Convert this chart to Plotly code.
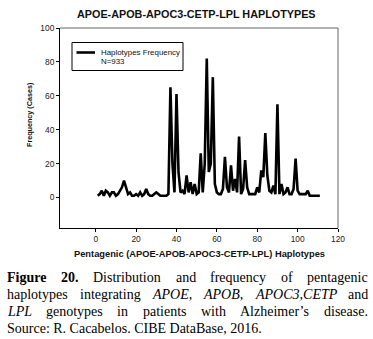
import plotly.graph_objects as go

# ---------------- data ----------------
haplotype_ids = list(range(1, 112))
frequency = [
    1, 2, 4, 1, 4, 3, 1, 3, 3, 1,
    2, 4, 6, 10, 6, 2, 3, 1, 1, 2,
    1, 3, 1, 2, 5, 2, 1, 1, 2, 3,
    2, 1, 1, 1, 1, 2, 65, 20, 3, 61,
    15, 3, 4, 2, 13, 3, 9, 2, 8, 2,
    3, 26, 3, 20, 82, 15, 20, 71, 8, 3,
    2, 2, 5, 24, 6, 3, 19, 4, 11, 3,
    36, 2, 5, 22, 6, 2, 2, 2, 2, 6,
    3, 16, 12, 38, 13, 4, 3, 7, 2, 55,
    2, 8, 2, 3, 6, 2, 2, 5, 23, 4,
    2, 2, 2, 2, 4, 1, 1, 1, 1, 1, 1,
]
x_ticks = [0, 20, 40, 60, 80, 100, 120]
y_ticks = [0, 20, 40, 60, 80, 100]

chart_title = "APOE-APOB-APOC3-CETP-LPL HAPLOTYPES"
x_title = "Pentagenic (APOE-APOB-APOC3-CETP-LPL) Haplotypes"
y_title = "Frequency (Cases)"
legend_lines = ["Haplotypes Frequency", "N=933"]

caption_lines = [
    [("Figure", "b"), ("20.", "b"), ("Distribution", "r"), ("and", "r"),
     ("frequency", "r"), ("of", "r"), ("pentagenic", "r")],
    [("haplotypes", "r"), ("integrating", "r"), ("APOE,", "i"), ("APOB,", "i"),
     ("APOC3,CETP", "i"), ("and", "r")],
    [("LPL", "i"), ("genotypes", "r"), ("in", "r"), ("patients", "r"),
     ("with", "r"), ("Alzheimer\u2019s", "r"), ("disease.", "r")],
]
caption_last = "Source: R. Cacabelos. CIBE DataBase, 2016."

# ---------------- layout geometry (pixels) ----------------
W, H = 373, 339
L, R, T, B = 60, 338, 28, 228


def px(x):
    return (x - L) / (R - L)


def py(y):
    return (B - y) / (B - T)


SANS = "Liberation Sans, Arial, sans-serif"
SERIF = "Liberation Serif, Times New Roman, serif"

fig = go.Figure()
fig.add_trace(go.Scatter(
    x=haplotype_ids, y=frequency, mode="lines",
    line=dict(color="black", width=2.6),
    name=" ".join(legend_lines), showlegend=False,
))

fig.update_layout(
    width=W, height=H,
    margin=dict(l=L, r=W - R, t=T, b=H - B),
    paper_bgcolor="white", plot_bgcolor="white",
    showlegend=False,
    font=dict(family=SANS, color="#222"),
)
fig.update_xaxes(
    range=[-17.7, 120], tickvals=x_ticks, ticks="outside", ticklen=3,
    tickcolor="black", showline=True, linecolor="black", linewidth=1,
    showgrid=False, zeroline=False, tickfont=dict(size=8.4, family=SANS, color="#222"),
)
fig.update_yaxes(
    range=[-18, 100], tickvals=y_ticks, ticks="outside", ticklen=3,
    tickcolor="black", showline=True, linecolor="black", linewidth=1,
    showgrid=False, zeroline=False, tickfont=dict(size=8.4, family=SANS, color="#222"),
)

shapes = []
# grey top/right frame
shapes.append(dict(type="line", xref="paper", yref="paper", x0=0, x1=1, y0=1, y1=1,
                   line=dict(color="#666", width=1)))
shapes.append(dict(type="line", xref="paper", yref="paper", x0=1, x1=1, y0=0, y1=1,
                   line=dict(color="#666", width=1)))
# legend box
shapes.append(dict(type="rect", xref="paper", yref="paper",
                   x0=px(72), x1=px(183), y0=py(42.5), y1=py(70.5),
                   line=dict(color="black", width=1), fillcolor="white"))
shapes.append(dict(type="line", xref="paper", yref="paper",
                   x0=px(76.5), x1=px(95), y0=py(52.5), y1=py(52.5),
                   line=dict(color="black", width=2.6)))

annotations = []
annotations.append(dict(xref="paper", yref="paper", x=px(99), y=py(52.5),
                        text=legend_lines[0], showarrow=False, xanchor="left",
                        yanchor="middle", font=dict(size=7.9, family=SANS, color="#111")))
annotations.append(dict(xref="paper", yref="paper", x=px(99), y=py(61.5),
                        text=legend_lines[1], showarrow=False, xanchor="left",
                        yanchor="middle", font=dict(size=7.9, family=SANS, color="#111")))
# chart title
annotations.append(dict(xref="paper", yref="paper", x=px(196), y=py(14),
                        text="<b>" + chart_title + "</b>", showarrow=False,
                        xanchor="center", yanchor="middle",
                        font=dict(size=10.8, family=SANS, color="#111")))
# axis titles
annotations.append(dict(xref="paper", yref="paper", x=px(199), y=py(254),
                        text="<b>" + x_title + "</b>", showarrow=False,
                        xanchor="center", yanchor="middle",
                        font=dict(size=9.3, family=SANS, color="#111")))
annotations.append(dict(xref="paper", yref="paper", x=px(29), y=py(115),
                        text="<b>" + y_title + "</b>", showarrow=False, textangle=-90,
                        xanchor="center", yanchor="middle",
                        font=dict(size=7.2, family=SANS, color="#111")))

# ---------------- caption (justified, Times metrics) ----------------
REG = {' ': 250, 'a': 444, 'b': 500, 'c': 444, 'd': 500, 'e': 444, 'f': 333, 'g': 500,
       'h': 500, 'i': 278, 'j': 278, 'k': 500, 'l': 278, 'm': 778, 'n': 500, 'o': 500,
       'p': 500, 'q': 500, 'r': 333, 's': 389, 't': 278, 'u': 500, 'v': 500, 'w': 722,
       'x': 500, 'y': 500, 'z': 444, '.': 250, ',': 250, ':': 278, '\u2019': 333,
       'A': 722, 'B': 667, 'C': 667, 'D': 722, 'E': 611, 'F': 556, 'I': 333, 'L': 611,
       'O': 722, 'P': 556, 'R': 667, 'S': 556, 'T': 611}
for d in "0123456789":
    REG[d] = 500
ITAL = {'A': 611, 'P': 611, 'O': 722, 'E': 611, 'B': 611, 'C': 667, 'T': 556, 'L': 556}
BOLD = {'F': 611, 'u': 556, 'r': 444}
CAP_SIZE = 14
CAP_L, CAP_R = 6, 367
cap_y = [277, 294, 311, 328]


def width(word, style):
    tot = 0
    for ch in word:
        w = REG.get(ch, 500)
        if style == "i":
            w = ITAL.get(ch, w)
        if style == "b":
            w = BOLD.get(ch, w)
        tot += w
    return tot / 1000 * CAP_SIZE


def styled(word, style):
    if style == "b":
        return "<b>" + word + "</b>"
    if style == "i":
        return "<i>" + word + "</i>"
    return word


for li, words in enumerate(caption_lines):
    widths = [width(w, s) for w, s in words]
    gap = (CAP_R - CAP_L - sum(widths)) / (len(words) - 1)
    xcur = CAP_L
    for (w, s), wd in zip(words, widths):
        annotations.append(dict(xref="paper", yref="paper", x=px(xcur), y=py(cap_y[li]),
                                text=styled(w, s), showarrow=False, xanchor="left",
                                yanchor="middle", borderpad=0,
                                font=dict(size=CAP_SIZE, family=SERIF, color="black")))
        xcur += wd + gap
annotations.append(dict(xref="paper", yref="paper", x=px(CAP_L), y=py(cap_y[3]),
                        text=caption_last, showarrow=False, xanchor="left",
                        yanchor="middle", borderpad=0,
                        font=dict(size=CAP_SIZE, family=SERIF, color="black")))

fig.update_layout(shapes=shapes, annotations=annotations)
fig.write_html("out.html")
